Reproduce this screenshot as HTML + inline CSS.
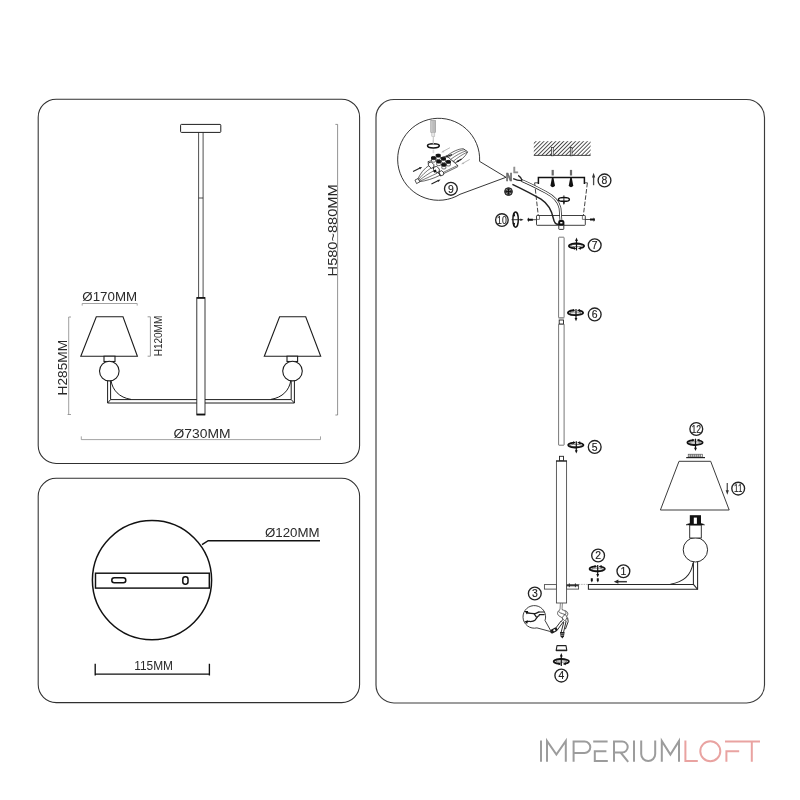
<!DOCTYPE html>
<html>
<head>
<meta charset="utf-8">
<title>Assembly diagram</title>
<style>
html,body{margin:0;padding:0;background:#fff;}
body{width:800px;height:800px;overflow:hidden;font-family:"Liberation Sans",sans-serif;}
svg{display:block;}
text{font-family:"Liberation Sans",sans-serif;}
</style>
</head>
<body>
<svg width="800" height="800" viewBox="0 0 800 800">
<rect x="0" y="0" width="800" height="800" fill="#ffffff"/>

<!-- ================= PANELS ================= -->
<g fill="none" stroke="#303030" stroke-width="1.05">
<rect x="38.2" y="99.2" width="321.4" height="364.2" rx="18" ry="18"/>
<rect x="38.2" y="478.3" width="321.4" height="224.3" rx="18" ry="18"/>
</g>
<rect x="376" y="99.45" width="388.5" height="603.5" rx="18" ry="18" fill="none" stroke="#3c3c3c" stroke-width="1.15"/>

<!-- ================= LEFT TOP: DIMENSION DRAWING ================= -->
<g id="dim-top" style="filter:grayscale(1)">
<!-- ceiling plate -->
<rect x="180.6" y="124.4" width="40.2" height="8" rx="0.8" fill="#fff" stroke="#1c1c1c" stroke-width="1"/>
<!-- thin pole -->
<g stroke="#222" stroke-width="0.8" fill="none">
<line x1="198.6" y1="132.4" x2="198.6" y2="297.5"/>
<line x1="203.1" y1="132.4" x2="203.1" y2="297.5"/>
<line x1="198.6" y1="198" x2="203.1" y2="198"/>
</g>
<!-- thick pole -->
<rect x="196.8" y="297.6" width="8.2" height="117.3" fill="#fff" stroke="#222" stroke-width="0.9"/>
<rect x="196.8" y="297.2" width="8.2" height="1.6" fill="#111"/>
<rect x="196.8" y="413.6" width="8.2" height="1.6" fill="#111"/>
<!-- arms -->
<g stroke="#1c1c1c" stroke-width="1" fill="none">
<!-- left arm -->
<path d="M196.8 399.6 H110.6 V381 M196.8 403 H107.6 V381 M107.6 403 L110.6 399.6"/>
<path d="M111 380.5 C112.5 390 119 397.5 131 399.4"/>
<!-- right arm -->
<path d="M205 399.6 H291.2 V381 M205 403 H294.4 V381 M294.4 403 L291.2 399.6"/>
<path d="M290.8 380.5 C289.3 390 282.8 397.5 270.8 399.4"/>
</g>
<!-- left lamp -->
<g stroke="#1c1c1c" stroke-width="1.1" fill="#fff" stroke-linejoin="miter">
<path d="M96.3 316.8 H123 L137.4 356.2 H80.8 Z"/>
<rect x="104" y="356.2" width="11" height="5.3"/>
<circle cx="109.3" cy="371.1" r="9.8"/>
<!-- right lamp -->
<path d="M279.6 316.8 H305.7 L320.7 356.2 H264.3 Z"/>
<rect x="287" y="356.2" width="10.6" height="5.3"/>
<circle cx="292.5" cy="371.1" r="9.8"/>
</g>
<!-- dimension lines (light) -->
<g stroke="#858585" stroke-width="0.75" fill="none">
<path d="M82.2 305.6 V303.5 H137.2 V305.6"/>
<path d="M68.7 317 H71 M68.7 317 V414.5 M67.6 414.5 H71" stroke="#777" stroke-width="0.7"/>
<path d="M147.6 316.8 H150.4 V356.2 H147.6" stroke="#777"/>
<path d="M81.3 436.4 V439.6 H320.5 V436.4"/>
<path d="M335.4 124.4 H337.6 V415 H335.4" stroke="#707070"/>
</g>
<!-- texts -->
<g fill="#2a2a2a">
<text x="82.3" y="301" font-size="13.6" textLength="54.8" lengthAdjust="spacingAndGlyphs">Ø170MM</text>
<text x="173.6" y="437.6" font-size="13.4" textLength="57" lengthAdjust="spacingAndGlyphs">Ø730MM</text>
<text transform="translate(66.6 395.4) rotate(-90)" font-size="13.6" textLength="55.6" lengthAdjust="spacingAndGlyphs">H285MM</text>
<text transform="translate(161.5 356.2) rotate(-90)" font-size="10.2" textLength="40.4" lengthAdjust="spacingAndGlyphs">H120MM</text>
<text transform="translate(336.6 276.4) rotate(-90)" font-size="13.4" textLength="92" lengthAdjust="spacingAndGlyphs">H580~880MM</text>
</g>
</g>

<!-- ================= LEFT BOTTOM: BASE ================= -->
<g id="dim-bottom" style="filter:grayscale(1)">
<circle cx="152" cy="580.1" r="59.6" fill="#fff" stroke="#111" stroke-width="1.5"/>
<rect x="95.5" y="573.2" width="113.8" height="14.9" fill="#fff" stroke="#111" stroke-width="1.45"/>
<rect x="111.8" y="577.8" width="14" height="4.9" rx="2.45" fill="#fff" stroke="#111" stroke-width="1.5"/>
<rect x="182.8" y="576.8" width="5.2" height="7.4" rx="2.4" fill="#fff" stroke="#111" stroke-width="1.5"/>
<path d="M202 544.6 L208.2 540.7 H320" fill="none" stroke="#111" stroke-width="1.5"/>
<path d="M95.2 663.8 V675.6 M209.4 663.8 V675.6 M95.2 674.1 H209.4" fill="none" stroke="#111" stroke-width="1.35"/>
<g fill="#2a2a2a">
<text x="265" y="537" font-size="13.4" textLength="54.6" lengthAdjust="spacingAndGlyphs">Ø120MM</text>
<text x="134.2" y="670" font-size="13.4" textLength="38.8" lengthAdjust="spacingAndGlyphs">115MM</text>
</g>
</g>

<!-- ================= LOGO ================= -->
<g id="logo" fill="none" stroke-width="2" stroke-linecap="butt" stroke-linejoin="miter">
<g stroke="#9c9c9c">
<!-- I -->
<path d="M541 740.6 V761.8"/>
<!-- M -->
<path d="M547 761.8 V741 L556.4 754.6 L565.8 741 V761.8"/>
<!-- P -->
<path d="M573.6 761.8 V741.5 H584.6 A5.7 5.7 0 0 1 584.6 752.9 H573.6"/>
<!-- E -->
<path d="M593.2 741.5 H607.6 M594.8 751.2 H606.4 M594.8 750.3 V760.9 H607.8"/>
<!-- R -->
<path d="M614 761.8 V741.5 H622.2 A5.5 5.5 0 0 1 622.2 752.5 H614 M620.6 752.5 L628.2 761.8"/>
<!-- I -->
<path d="M634 740.6 V761.8"/>
<!-- U -->
<path d="M641.2 740.6 V754 A7 7 0 0 0 655.2 754 V740.6"/>
<!-- M -->
<path d="M661.8 761.8 V741 L670.4 754.6 L679 741 V761.8"/>
</g>
<g stroke="#e9a3a1">
<!-- L -->
<path d="M685.4 740.6 V760.9 H697.8"/>
<!-- O -->
<circle cx="710.3" cy="751.2" r="10"/>
<!-- F T -->
<path d="M725 741.5 H760 M726.4 761.8 V751.2 H739.2 M751.8 741.5 V761.8"/>
</g>
</g>

<!-- ================= RIGHT PANEL: ASSEMBLY ================= -->
<g id="assembly" style="filter:grayscale(1)">
<defs>
<pattern id="hatch" patternUnits="userSpaceOnUse" width="2.8" height="2.8" patternTransform="rotate(-45 533.8 155.5)">
<rect x="0" y="0" width="2.8" height="2.8" fill="#fff"/>
<line x1="0" y1="1.4" x2="2.8" y2="1.4" stroke="#4a4a4a" stroke-width="0.95"/>
</pattern>
<!-- rotation symbol, arrow down (gap at top) -->
<g id="rotD">
<path d="M3.6 -2.2 A7.6 2.5 0 1 1 -1.6 -2.44" fill="none" stroke="#111" stroke-width="1.8"/>
<ellipse cx="0" cy="0.5" rx="5.8" ry="1.2" fill="none" stroke="#2a2a2a" stroke-width="0.6"/>
<path d="M1.4 -2.4 L4.4 -3.8 V-0.8 Z M0 -2.5 L-2.6 -3.8 V-1.1 Z" fill="#111"/>
<line x1="0.5" y1="-3.8" x2="0.5" y2="6.4" stroke="#111" stroke-width="1.2"/>
<path d="M0.5 8.6 L-0.9 5.2 H1.9 Z" fill="#111"/>
</g>
<!-- rotation symbol, arrow up (gap at bottom) -->
<g id="rotU"><g transform="scale(1 -1)">
<path d="M3.6 -2.2 A7.6 2.5 0 1 1 -1.6 -2.44" fill="none" stroke="#111" stroke-width="1.8"/>
<ellipse cx="0" cy="0.5" rx="5.8" ry="1.2" fill="none" stroke="#2a2a2a" stroke-width="0.6"/>
<path d="M1.4 -2.4 L4.4 -3.8 V-0.8 Z M0 -2.5 L-2.6 -3.8 V-1.1 Z" fill="#111"/>
<line x1="0" y1="-4.4" x2="0" y2="6" stroke="#111" stroke-width="1.2"/>
<path d="M0 8.4 L-1.4 5 H1.4 Z" fill="#111"/>
</g></g>
<!-- small mounting screw pointing down w/ head at bottom -->
<g id="scr">
<rect x="-1.1" y="-7.7" width="2.2" height="5.6" fill="#6a6a6a"/>
<path d="M-0.7 0 L0.7 0 L2.2 7.6 Q2.2 9 0 9.6 Q-2.2 9 -2.2 7.6 Z" fill="#111"/>
</g>
<g id="knob" stroke="#111" stroke-width="7" stroke-linejoin="round"><path d="M-23 0 V46 A23 9 0 0 0 23 46 V0 Z" fill="#fff"/><path d="M-23 0 V18 A23 9 0 0 0 23 18 V0 A23 10 0 0 0 -23 0 Z" fill="#111"/></g>
</defs>

<!-- ceiling -->
<rect x="533.8" y="141.2" width="56.8" height="14.2" fill="url(#hatch)"/>
<line x1="533.8" y1="155.4" x2="590.6" y2="155.4" stroke="#333" stroke-width="0.9"/>
<g fill="#fff" stroke="#2a2a2a" stroke-width="0.7">
<rect x="551.5" y="147.4" width="1.7" height="8.4"/>
<rect x="570.3" y="147.4" width="1.7" height="8.4"/>
</g>

<!-- mounting bracket -->
<path d="M538.4 184 V177.6 H584.4 V184" fill="none" stroke="#111" stroke-width="1.5"/>
<path d="M538.4 182.8 H534.6 M584.4 182.8 H587.4" fill="none" stroke="#222" stroke-width="0.8"/>
<path d="M534.6 182.8 L538.2 215 M587.4 182.8 L583.4 215" fill="none" stroke="#222" stroke-width="0.85" stroke-dasharray="4.6 1.7"/>
<use href="#scr" x="552.7" y="177.6"/>
<use href="#scr" x="571" y="177.6"/>
<!-- arrow 8 -->
<line x1="593.6" y1="176" x2="593.6" y2="185.2" stroke="#4a4a4a" stroke-width="1.3"/>
<path d="M593.6 172.8 L592 177.4 H595.2 Z" fill="#333"/>

<!-- canopy box -->
<rect x="536.5" y="215.5" width="48.8" height="9.8" rx="0.6" fill="none" stroke="#2a2a2a" stroke-width="0.9"/>
<path d="M539.5 215.5 V219.4 H536.5 M582.4 215.5 V219.4 H585.3" fill="none" stroke="#444" stroke-width="0.7"/>
<!-- wires from N / L -->
<path d="M521.6 180.4 C528 183 537 187.6 546 192.4 C554 196.6 558.4 200.6 560 208 L561 221" fill="none" stroke="#222" stroke-width="2.7"/>
<path d="M521.6 180.4 C528 183 537 187.6 546 192.4 C554 196.6 558.4 200.6 560 208 L561 221" fill="none" stroke="#fff" stroke-width="1.2"/>
<path d="M512.4 184.4 C522 189 533 194.6 541 199.2 C549 204.4 552 212 553.4 218.6 C554.4 223.4 556.4 224.6 558.6 224.2" fill="none" stroke="#222" stroke-width="1.5"/>
<path d="M513.2 178.6 C516 180 519.4 180.8 522.2 180.6 M518.2 175.4 C520.4 176.6 521.4 178.4 522.2 180.6" fill="none" stroke="#222" stroke-width="1.2"/>
<!-- N L labels -->
<g font-weight="bold">
<text x="506" y="180.6" font-size="10.4" fill="#6c6c6c" stroke="#6c6c6c" stroke-width="0.7" textLength="6.2" lengthAdjust="spacingAndGlyphs">N</text>
<text x="513.2" y="173.4" font-size="9" fill="#8e8e8e" stroke="#8e8e8e" stroke-width="0.7" textLength="4.8" lengthAdjust="spacingAndGlyphs">L</text>
</g>
<!-- ground symbol -->
<circle cx="508.5" cy="191.6" r="3.9" fill="#4a4a4a" stroke="#222" stroke-width="1"/>
<path d="M508.5 188.6 V194.6 M505.5 191.6 H511.5" stroke="#111" stroke-width="1" fill="none"/>
<path d="M506.3 189.4 l1 1 M510.7 189.4 l-1 1 M506.3 193.8 l1 -1 M510.7 193.8 l-1 -1" stroke="#ddd" stroke-width="0.7" fill="none"/>
<!-- rotation symbol inside canopy -->
<ellipse cx="563.9" cy="199.4" rx="5.5" ry="1.9" fill="none" stroke="#111" stroke-width="1.4"/>
<line x1="563.9" y1="195.4" x2="563.9" y2="203.4" stroke="#111" stroke-width="0.9"/>
<path d="M563.9 205 L562.8 202.2 H565 Z" fill="#111"/>
<!-- connector nut -->
<path d="M558.2 225.6 V222 Q558.2 220 560.2 220 H562.4 Q564.4 220 564.4 222 V225.6 Z" fill="#111"/>
<rect x="558.8" y="225.4" width="5" height="4" rx="0.5" fill="#fff" stroke="#222" stroke-width="0.9"/>
<rect x="560.2" y="222" width="2.2" height="1.5" fill="#fff"/>
<!-- step 10 side screws -->
<path d="M585.3 219.5 H590.4" stroke="#222" stroke-width="0.8" fill="none"/>
<path d="M590 218.5 H593.6 V217.4 Q596.4 219.5 593.6 221.7 V220.5 H590 Z" fill="#111"/>
<path d="M536.5 219.7 H532.6" stroke="#222" stroke-width="0.8" fill="none"/>
<path d="M532.9 218.8 H528.8 V217.5 Q526 219.7 528.8 222 V220.7 H532.9 Z" fill="#111"/>
<ellipse cx="515.6" cy="219.6" rx="2.7" ry="7.6" fill="none" stroke="#111" stroke-width="1.4"/>
<path d="M511.6 219.7 H521" stroke="#222" stroke-width="0.9"/>
<path d="M523.6 219.7 L520.4 218.5 V221 Z" fill="#222"/>
<path d="M512.6 215.8 L514.6 213.6 L515.2 216.6 Z M512.6 223.4 L514.4 225.8 L515.2 222.8 Z" fill="#111"/>
<!-- rods -->
<g fill="#fff" stroke="#555" stroke-width="0.8">
<rect x="558.6" y="237.2" width="5.5" height="80.6" rx="0.6"/>
<rect x="558.6" y="324" width="5.5" height="121.2" rx="0.4"/>
</g>
<rect x="559.2" y="320" width="4.3" height="4" fill="#fff" stroke="#222" stroke-width="0.9"/>
<line x1="558.4" y1="318" x2="564.3" y2="318" stroke="#888" stroke-width="0.8"/>

<!-- lower thick rod -->
<rect x="559.5" y="456.3" width="4" height="4.6" fill="#fff" stroke="#222" stroke-width="0.9"/>
<rect x="556.4" y="461" width="10.2" height="142" fill="#fff" stroke="#444" stroke-width="0.85"/>
<line x1="556" y1="461" x2="567" y2="461" stroke="#222" stroke-width="1.1"/>

<!-- rotation symbols on rods -->
<use href="#rotU" x="576.5" y="246"/>
<use href="#rotD" x="575.5" y="312.7"/>
<use href="#rotD" x="575.8" y="445"/>

<!-- big bubble (9) with callout tail -->
<path d="M479.6 161.4 A41 41 0 1 0 460 194.3 L506 177.3 Z" fill="#fff" stroke="#2c2c2c" stroke-width="0.95" stroke-linejoin="round"/>
<!-- screwdriver -->
<rect x="430.8" y="120.6" width="4.8" height="11.8" fill="#d9d9d9" stroke="#888" stroke-width="0.6"/>
<path d="M432.2 120.8 V132.2 M433.4 120.8 V132.2 M434.6 120.8 V132.2" stroke="#999" stroke-width="0.5" fill="none"/>
<rect x="431.8" y="132.4" width="3" height="4" fill="#e6e6e6" stroke="#aaa" stroke-width="0.5"/>
<line x1="433.3" y1="136.4" x2="433.3" y2="145" stroke="#c4c4c4" stroke-width="1.1"/>
<rect x="432.6" y="149.6" width="1.6" height="3.6" fill="#d8d8d8"/>
<!-- ring -->
<ellipse cx="433.4" cy="145.8" rx="5.9" ry="2.1" fill="none" stroke="#111" stroke-width="1.5"/>
<line x1="433.3" y1="140" x2="433.3" y2="144.4" stroke="#c4c4c4" stroke-width="1.1"/>

<g transform="translate(405 140) scale(0.0875)" stroke-linejoin="round" stroke-linecap="round">
<!-- right wire bundle -->
<path d="M465 192 C540 130 620 98 668 100 L716 136 C690 190 640 232 585 258 Z" fill="#fff" stroke="#222" stroke-width="8"/>
<path d="M490 208 C560 150 630 116 682 110 M515 226 C580 176 650 138 700 124 M548 246 C600 202 660 162 712 138" fill="none" stroke="#222" stroke-width="7"/>
<!-- left wire bundle -->
<path d="M280 288 C222 318 170 390 146 448 L166 476 C232 470 330 440 398 404 Z" fill="#fff" stroke="#222" stroke-width="8"/>
<path d="M302 318 C246 350 186 410 152 456 M332 350 C272 380 200 430 158 466 M366 380 C300 410 222 450 164 472" fill="none" stroke="#222" stroke-width="7"/>
<!-- sleeve end -->
<path d="M118 456 L150 440 L170 478 L136 496 Z" fill="#fff" stroke="#222" stroke-width="9"/>
<!-- base plate -->
<path d="M268 262 L404 402 L602 306 L602 290 L476 182 L268 246 Z" fill="#fff" stroke="#222" stroke-width="8"/>
<path d="M268 246 L404 386 L602 290 M404 386 V402" fill="none" stroke="#222" stroke-width="7"/>
<!-- front clamp blocks -->
<path d="M270 262 L300 250 L330 282 L330 312 L300 324 L270 292 Z" fill="#fff" stroke="#111" stroke-width="9"/>
<path d="M330 312 L362 300 L392 332 L392 362 L362 374 L330 342 Z" fill="#fff" stroke="#111" stroke-width="9"/>
<path d="M392 362 L420 350 L444 376 L440 398 L410 410 Z" fill="#fff" stroke="#111" stroke-width="9"/>
<path d="M318 352 L352 338 L362 362 L338 374 Z" fill="#111"/>
<!-- knobs: back row then front row -->
<use href="#knob" x="380" y="170"/>
<use href="#knob" x="440" y="206"/>
<use href="#knob" x="496" y="242"/>
<use href="#knob" x="326" y="198"/>
<use href="#knob" x="386" y="238"/>
<use href="#knob" x="444" y="276"/>
<!-- dark arrows -->
<g stroke="#222" stroke-width="13" fill="#222" stroke-linecap="butt">
<path d="M92 360 L172 320"/><path d="M196 308 L160 312 L172 336 Z" stroke="none"/>
<path d="M302 504 L382 464"/><path d="M406 452 L370 456 L382 480 Z" stroke="none"/>
<path d="M536 166 L478 190"/><path d="M456 198 L490 200 L480 176 Z" stroke="none"/>
<path d="M646 218 L606 240"/><path d="M584 252 L618 252 L606 228 Z" stroke="none"/>
</g>
<!-- light arrows -->
<g stroke="#b5b5b5" stroke-width="11" fill="#b5b5b5" stroke-linecap="butt">
<path d="M514 88 L440 128"/><path d="M414 142 L450 140 L438 116 Z" stroke="none"/>
<path d="M740 222 L668 262"/><path d="M642 276 L678 274 L666 250 Z" stroke="none"/>
</g>
</g>

<!-- numbered circles -->
<g fill="#fff" stroke="#222" stroke-width="1.35">
<circle cx="604.5" cy="180.4" r="6.4"/>
<circle cx="594.7" cy="245.2" r="6.4"/>
<circle cx="594.7" cy="314.4" r="6.4"/>
<circle cx="594.7" cy="446.9" r="6.4"/>
<circle cx="501.9" cy="220" r="6.3"/>
<circle cx="450.9" cy="188.8" r="6.4"/>
<circle cx="696.3" cy="429" r="6.4"/>
<circle cx="738.2" cy="488.6" r="6.4"/>
<circle cx="623.4" cy="571.2" r="6.4"/>
<circle cx="598.1" cy="555.5" r="6.4"/>
<circle cx="534.8" cy="593.5" r="6.4"/>
<circle cx="561.3" cy="675.6" r="6.4"/>
</g>
<g fill="#222" font-size="10.4" text-anchor="middle" stroke="#222" stroke-width="0.15">
<text x="604.5" y="184.2">8</text>
<text x="594.7" y="249">7</text>
<text x="594.7" y="318.2">6</text>
<text x="594.7" y="450.7">5</text>
<text x="501.9" y="223.8" textLength="9.6" lengthAdjust="spacingAndGlyphs">10</text>
<text x="450.9" y="192.6">9</text>
<text x="696.3" y="432.8" textLength="9.6" lengthAdjust="spacingAndGlyphs">12</text>
<text x="738.2" y="492.4" textLength="8.2" lengthAdjust="spacingAndGlyphs">11</text>
<text x="623.4" y="575">1</text>
<text x="598.1" y="559.3">2</text>
<text x="534.8" y="597.3">3</text>
<text x="561.3" y="679.4">4</text>
</g>
<!-- side stubs on lower rod -->
<g fill="#fff" stroke="#444" stroke-width="0.85">
<rect x="544.4" y="584.6" width="12" height="4.5"/>
<rect x="566.6" y="584.6" width="12" height="4.5"/>
</g>
<path d="M566.8 585.7 H578.4" stroke="#222" stroke-width="1.2" fill="none"/>
<path d="M569.3 583.4 V587.2 M575.4 583.4 V587.2" stroke="#222" stroke-width="0.9" fill="none"/>
<path d="M578.6 584.4 H599" stroke="#888" stroke-width="0.6" stroke-dasharray="1.6 0.9" fill="none"/>

<!-- arm -->
<g fill="none" stroke="#262626" stroke-width="1.05">
<path d="M693.4 561.6 V584.4 H588.4 V589.3 H697.6 V561.6"/>
<path d="M693.4 584.4 L697.6 589.3"/>
<path d="M693 563 C691.4 574 684 582 670.4 584.2"/>
</g>
<!-- two small screws (step 2) -->
<g fill="#111">
<path d="M590.8 578.2 H592.8 V580.4 L591.8 582.6 L590.8 580.4 Z"/>
<path d="M596.8 578.2 H598.8 V580.4 L597.8 582.6 L596.8 580.4 Z"/>
</g>
<use href="#rotD" x="597.2" y="568.8"/>
<!-- arrow 1 -->
<line x1="617" y1="581.7" x2="626.9" y2="581.7" stroke="#3a3a3a" stroke-width="1.5"/>
<path d="M613.8 581.7 L618.4 579.6 V583.8 Z" fill="#2a2a2a"/>

<!-- lamp: ball, neck, socket -->
<circle cx="695.4" cy="549.8" r="12.2" fill="#fff" stroke="#2a2a2a" stroke-width="1"/>
<rect x="689.7" y="525" width="11.6" height="13" fill="#fff" stroke="#2a2a2a" stroke-width="0.95"/>
<path d="M686 524.9 Q688.4 523.4 690 523.4 H701 Q702.6 523.4 704.6 524.9 Z" fill="#111" stroke="#111" stroke-width="0.5"/>
<rect x="689.8" y="515.2" width="11.2" height="9" fill="#111"/>
<rect x="693.8" y="517.6" width="3.1" height="6.2" fill="#fff"/>
<!-- shade -->
<path d="M679 461.3 H710.7 L729.2 510 H660.4 Z" fill="#fff" stroke="#303030" stroke-width="0.95" stroke-linejoin="round"/>
<!-- shade ring -->
<rect x="688.2" y="454.2" width="14.2" height="2.8" fill="#eee" stroke="#444" stroke-width="0.6"/>
<path d="M690.2 454.4 V456.8 M692.2 454.4 V456.8 M694.2 454.4 V456.8 M696.2 454.4 V456.8 M698.2 454.4 V456.8 M700.2 454.4 V456.8" stroke="#333" stroke-width="0.8"/>
<line x1="686.2" y1="457.6" x2="705" y2="457.6" stroke="#222" stroke-width="1.2"/>
<use href="#rotD" x="695" y="442.5"/>
<!-- arrow 11 -->
<line x1="727.3" y1="483" x2="727.3" y2="491.6" stroke="#5e5e5e" stroke-width="1.4"/>
<path d="M727.3 494.8 L725.7 490.2 H728.9 Z" fill="#333"/>

<!-- wires out of the lower rod -->
<g fill="none" stroke="#3a3a3a" stroke-width="0.8">
<path d="M560.4 603 L560 609.6 M562.4 603 L562 609.6" stroke="#666"/>
<path d="M560 609.6 C556.6 612 556.8 615 560.2 616.6 C563.2 618 563.2 620 561 622"/>
<path d="M562 609.6 C566.4 611 567.4 613.6 563.8 615.6 C561.4 617.4 562.4 619.4 565.4 621"/>
<path d="M558.4 611.2 C560 614.2 565.2 613.2 566.8 616.2 C567.8 618.6 564.4 619.4 566.2 622"/>
<path d="M564.6 610.4 C568.4 611.6 568.6 614.6 566.4 616.4"/>
</g>
<g fill="none" stroke="#222" stroke-width="0.95">
<path d="M561.4 620.6 L555.2 628.8 M563.6 621.4 L557.2 630.2"/>
<path d="M563.8 622 L561.2 632 M566 621.6 L563.6 632.2 M567.6 617.6 L568.2 621.6 L565.4 629.2"/>
</g>
<!-- wire connectors -->
<g transform="translate(553.8 630.5) rotate(-30)">
<rect x="-3.9" y="-2" width="7.8" height="4" rx="1.8" fill="#1c1c1c"/>
<rect x="-0.4" y="-0.9" width="2" height="1.8" fill="#fff"/>
</g>
<path d="M560 632 H564.6 L564 636.2 L562.3 638.6 L560.6 636.2 Z" fill="#1c1c1c"/>
<path d="M560.8 633.8 H563.8 M561 635.4 H563.6" stroke="#fff" stroke-width="0.5"/>
<!-- small bubble (3) -->
<path d="M545.02 620.49 A11.3 11.3 0 1 0 536.92 627.89 L551.3 631.75 Z" fill="#fff" stroke="#2a2a2a" stroke-width="0.9" stroke-linejoin="round"/>
<g fill="none" stroke="#1c1c1c" stroke-width="1.25">
<path d="M526.4 612.4 C528.6 613.8 531.4 613 534 613.6 C536.6 614 537.6 612 539.4 611.8"/>
<path d="M526 621.8 C529 620.8 532.4 622.6 535 620.2 C536.8 618 537.4 616 539.6 615.4"/>
<path d="M534 613.6 L536.6 617.4"/>
</g>
<path d="M538.6 612 H544.4 M538.8 614.6 H544.6" fill="none" stroke="#1c1c1c" stroke-width="1.1"/>
<path d="M524.6 611 L528.2 611 L527 614.6 Z M524.4 621.4 L528 620.2 L527.2 624 Z" fill="#111"/>

<!-- end cap -->
<path d="M557 645.6 H566 L566.8 650.4 H556.2 Z" fill="#fff" stroke="#222" stroke-width="1.1" stroke-linejoin="round"/>
<line x1="556" y1="650.5" x2="567" y2="650.5" stroke="#222" stroke-width="1.4"/>
<use href="#rotU" x="561.3" y="661.5"/>




</g>
</svg>
</body>
</html>
